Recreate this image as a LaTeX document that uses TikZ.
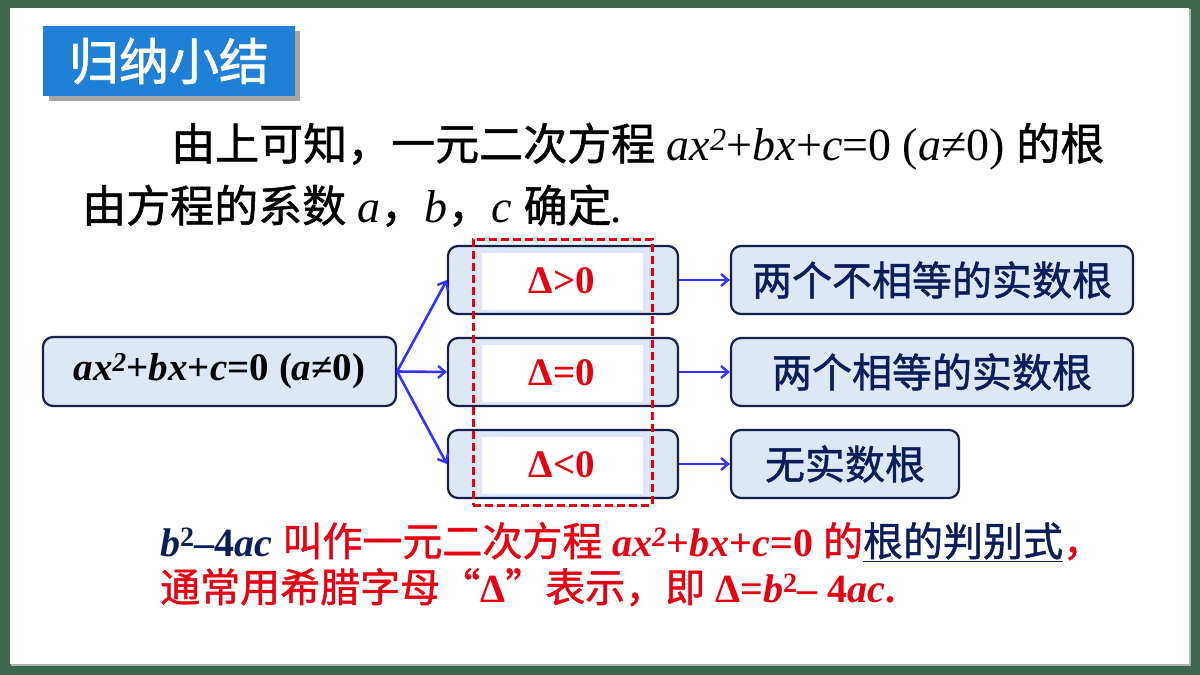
\documentclass[tikz,border=0pt]{standalone}
\usepackage{fontspec}
\setmainfont{Liberation Serif}
\newfontfamily\cjk{Noto Sans CJK SC}[FakeBold=1.2]
\newfontfamily\cjkt{Noto Sans CJK SC}[FakeBold=1.5]
\usetikzlibrary{arrows.meta}
\definecolor{board}{RGB}{60,102,78}
\definecolor{titleblue}{RGB}{30,128,214}
\definecolor{boxfill}{RGB}{220,232,245}
\definecolor{boxline}{RGB}{22,32,72}
\definecolor{arrblue}{RGB}{51,51,255}
\definecolor{redt}{RGB}{230,0,18}
\definecolor{navy}{RGB}{10,30,90}
\newcommand\sq{\textsuperscript{2}}
\newcommand\fs[1]{\fontsize{#1}{#1}\selectfont}
\newcommand\zh[1]{{\cjk\mdseries\upshape #1}}
\newcommand\zhb[1]{{\cjk\mdseries\upshape\fs{44}#1}}
\tikzset{
  rbox/.style={draw=boxline, line width=2.2pt, fill=boxfill, rounded corners=10pt, inner sep=0pt},
  inbox/.style={draw=boxfill!70!blue!30, line width=0.8pt, fill=white, inner sep=0pt, minimum width=162pt, minimum height=58pt, text=redt, font=\fs{39}\bfseries},
  arr/.style={draw=arrblue, line width=2.6pt, -{Straight Barb[length=7pt,width=12pt,line width=2.4pt]}},
  txt/.style={inner sep=0pt, anchor=base west}
}
\begin{document}
\begin{tikzpicture}[x=1pt,y=-1pt]
\useasboundingbox (0,0) rectangle (1200,675);
\fill[board] (0,0) rectangle (1200,675);
\fill[gray!60] (11,9) rectangle (1191,666);
\fill[white] (10,8) rectangle (1189,664);
% title
\fill[gray!70] (49,31) rectangle (300,101);
\node[fill=titleblue, minimum width=252pt, minimum height=70pt, inner sep=0pt, text=white, font=\cjkt\fs{50}] (title) at (169,61) {归纳小结};
% top text
\node[txt, font=\fs{46}] (l1) at (171,160) {\zhb{由上可知，一元二次方程} \itshape ax\sq\upshape+\itshape bx\upshape+\itshape c\upshape=0 (\itshape a\upshape≠0) \zhb{的根}};
\node[txt, font=\fs{46}] (l2) at (82,222) {\zhb{由方程的系数} \itshape a\zhb{，}b\zhb{，}c \zhb{确定}.};
% left box
\node[rbox, minimum width=353pt, minimum height=69pt, font=\fs{39}\bfseries] (eq) at (219.5,371.5) {\itshape ax\sq\upshape+\itshape bx\upshape+\itshape c\upshape=0 (\itshape a\upshape≠0)};
% middle boxes
\node[rbox, minimum width=230pt, minimum height=68pt] (m1) at (563,280) {};
\node[rbox, minimum width=230pt, minimum height=68pt] (m2) at (563,372) {};
\node[rbox, minimum width=230pt, minimum height=68pt] (m3) at (563,464) {};
\node[inbox] (d1) at (562,281) {Δ>0};
\node[inbox] (d2) at (562,373) {Δ=0};
\node[inbox] (d3) at (562,465) {Δ<0};
\node[draw=redt, dash pattern=on 8pt off 4pt, line width=3pt, minimum width=179pt, minimum height=266pt, inner sep=0pt] (dash) at (562.5,372) {};
% right boxes
\node[rbox, minimum width=402pt, minimum height=68pt, text=navy, font=\cjk\fs{40}] (r1) at (932,280) {两个不相等的实数根};
\node[rbox, minimum width=402pt, minimum height=68pt, text=navy, font=\cjk\fs{40}] (r2) at (932,372) {两个相等的实数根};
\node[rbox, minimum width=228pt, minimum height=68pt, text=navy, font=\cjk\fs{40}] (r3) at (845,464) {无实数根};
% arrows
\draw[arr] (eq.east) -- (m1.west);
\draw[arr] (eq.east) -- (m2.west);
\draw[arr] (eq.east) -- (m3.west);
\draw[arr] (m1.east) -- (r1.west);
\draw[arr] (m2.east) -- (r2.west);
\draw[arr] (m3.east) -- (r3.west);
% bottom text
\node[txt, font=\fs{40}\bfseries] (b1) at (160,556) {\textcolor{navy}{\itshape b\upshape\sq–4\itshape ac} \color{redt}\zh{叫作一元二次方程} \itshape ax\sq\upshape+\itshape bx\upshape+\itshape c\upshape=0 \zh{的}\textcolor{navy}{\underline{\zh{根的判别式}}}\zh{，}};
\node[txt, font=\fs{40}\bfseries, text=redt] (b2) at (160,602) {\zh{通常用希腊字母“}Δ\zh{”表示，即} Δ=\itshape b\upshape\sq– 4\itshape ac\upshape.};
\end{tikzpicture}
\end{document}
